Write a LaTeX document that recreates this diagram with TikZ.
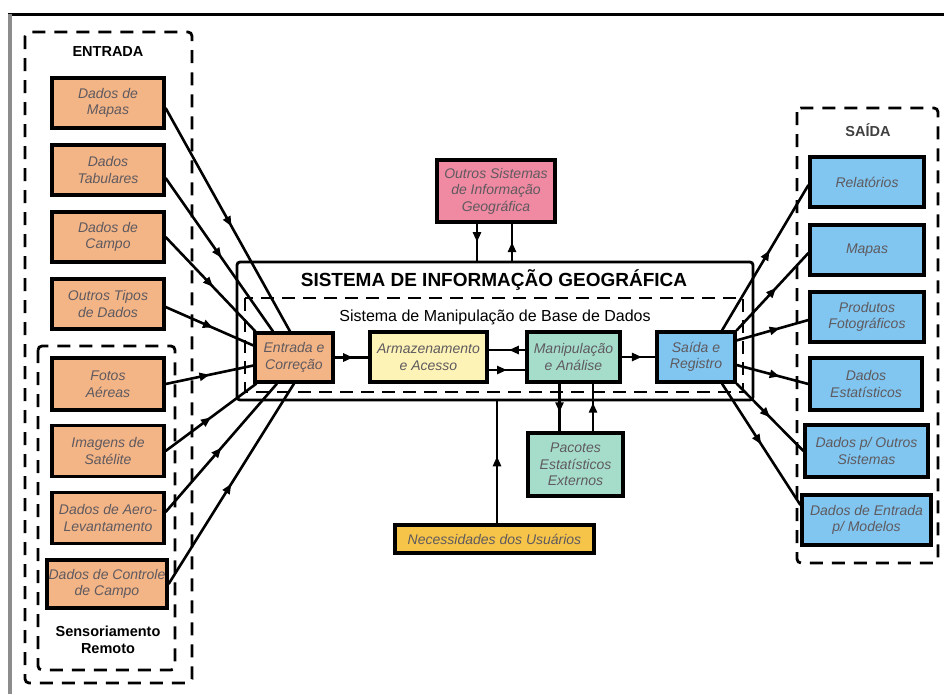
\documentclass[tikz,border=0pt]{standalone}
\usepackage{fontspec}
\setmainfont{Liberation Sans}
\usetikzlibrary{arrows.meta,decorations.markings}
\definecolor{corange}{RGB}{243,180,134}
\definecolor{cyellow}{RGB}{253,243,182}
\definecolor{cgreen}{RGB}{166,221,202}
\definecolor{cblue}{RGB}{128,198,240}
\definecolor{cpink}{RGB}{240,138,162}
\definecolor{cgold}{RGB}{246,196,72}
\definecolor{ctext}{RGB}{95,90,95}
\begin{document}
\begin{tikzpicture}[x=1pt,y=-1pt,
  box/.style={draw=black, line width=3.2pt, inner sep=0pt, align=center,
    font=\fontsize{14}{16.5}\selectfont\itshape, text=ctext},
  inbox/.style={box, fill=corange, minimum width=112pt, minimum height=50pt},
  outbox/.style={box, fill=cblue, minimum width=114pt, minimum height=50pt},
  grp/.style={draw=black, line width=2.8pt, dash pattern=on 13pt off 9pt, rounded corners=4pt},
  conn/.style={draw=black, line width=2.6pt},
  midarrow/.style={postaction={decorate,decoration={markings,
    mark=at position #1 with {\arrow{Triangle[length=10pt,width=8pt]}}}}},
  midarrow/.default=0.5,
  lbl/.style={font=\fontsize{14.5}{17}\selectfont\bfseries, align=center}
]
\useasboundingbox (0,0) rectangle (944,694);
\fill[white] (0,0) rectangle (944,694);
% frame of the scanned figure
\draw[line width=3pt, black] (8,14) -- (944,14);
\draw[line width=4pt, black!45] (10,14) -- (10,694);

% groups
\draw[grp] (25,32) rectangle (192,683);
\draw[grp] (38,346) rectangle (175,670);
\draw[grp] (797,108) rectangle (938,563);
\node[lbl] (lentrada) at (108,52) {ENTRADA};
\node[lbl] (lsens) at (108,640) {Sensoriamento\\Remoto};
\node[lbl, text=black!75] (lsaida) at (868,130) {SAÍDA};

% SIG
\node[draw=black, line width=2.8pt, rounded corners=3pt, minimum width=516pt, minimum height=138pt, inner sep=0pt] (sig) at (495,331) {};
\draw[grp, rounded corners=0pt, dash pattern=on 13pt off 8pt] (245,298) rectangle (743,392);
\node[font=\fontsize{19}{22}\selectfont\bfseries] (title) at (494,280) {SISTEMA DE INFORMAÇÃO GEOGRÁFICA};
\node[font=\fontsize{16}{18}\selectfont] (sub) at (495,317) {Sistema de Manipulação de Base de Dados};

% input boxes
\node[inbox] (mapas) at (108,103) {Dados de\\Mapas};
\node[inbox] (tab) at (108,170) {Dados\\Tabulares};
\node[inbox] (campo) at (108,237) {Dados de\\Campo};
\node[inbox] (outros) at (108,304) {Outros Tipos\\de Dados};
\node[inbox, minimum height=52pt] (fotos) at (108,384) {Fotos\\Aéreas};
\node[inbox, minimum height=51pt] (sat) at (108,451) {Imagens de\\Satélite};
\node[inbox, minimum height=51pt] (aero) at (108,518) {Dados de Aero-\\Levantamento};
\node[inbox, minimum width=120pt, minimum height=48pt] (ctrl) at (107,584) {Dados de Controle\\de Campo};

% inner boxes
\node[box, fill=corange, minimum width=78pt, minimum height=49pt] (ent) at (294,357.5) {Entrada e\\Correção};
\node[box, fill=cyellow, minimum width=117pt, minimum height=50pt] (arm) at (428.5,357) {Armazenamento\\e Acesso};
\node[box, fill=cgreen, minimum width=93pt, minimum height=50pt] (man) at (573.5,357) {Manipulação\\e Análise};
\node[box, fill=cblue, minimum width=78pt, minimum height=50pt] (sai) at (696,357) {Saída e\\Registro};
\node[box, fill=cpink, minimum width=118pt, minimum height=62pt] (osig) at (496,191) {Outros Sistemas\\de Informação\\Geográfica};
\node[box, fill=cgreen, minimum width=95pt, minimum height=63pt] (pac) at (575.5,464.5) {Pacotes\\Estatísticos\\Externos};
\node[box, fill=cgold, minimum width=199pt, minimum height=28pt] (nec) at (494.5,539) {Necessidades dos Usuários};

% output boxes
\node[outbox] (rel) at (867,182) {Relatórios};
\node[outbox] (mapo) at (867,250) {Mapas};
\node[outbox] (prod) at (867,317) {Produtos\\Fotográficos};
\node[outbox, minimum width=112pt, minimum height=52pt] (est) at (866,384) {Dados\\Estatísticos};
\node[outbox, minimum width=123pt, minimum height=52pt] (dout) at (866.5,451) {Dados p/ Outros\\Sistemas};
\node[outbox, minimum width=129pt, minimum height=50pt] (dmod) at (866.5,520) {Dados de Entrada\\p/ Modelos};

% input connectors
\draw[conn, midarrow=0.53] ([yshift=-5pt]mapas.east) -- ([xshift=-4pt]ent.north);
\draw[conn, midarrow=0.52] ([yshift=-8pt]tab.east) -- ([xshift=-21pt]ent.north);
\draw[conn, midarrow=0.53] (campo.east) -- ([xshift=2pt]ent.north west);
\draw[conn, midarrow=0.54] ([yshift=-3pt]outros.east) -- ([yshift=12pt]ent.west);
\draw[conn, midarrow=0.5] (fotos.east) -- ([yshift=-8pt]ent.west);
\draw[conn, midarrow=0.5] (sat.east) -- ([xshift=3pt]ent.south west);
\draw[conn, midarrow=0.5] ([yshift=6pt]aero.east) -- ([xshift=-17pt]ent.south);
\draw[conn, midarrow=0.5] (ctrl.east) -- (ent.south);

% inner connectors
\draw[conn, midarrow=0.55] (ent.east) -- (ent.east -| arm.west);
\draw[conn, midarrow=0.45] ([yshift=7pt]man.west) -- ([yshift=7pt]man.west -| arm.east);
\draw[conn, midarrow=0.5] ([yshift=-13pt]arm.east) -- ([yshift=-13pt]arm.east -| man.west);
\draw[conn, midarrow=0.6] (man.east) -- (man.east -| sai.west);

% other systems
\draw[conn, midarrow=0.5] ([xshift=-19pt]osig.south) -- ([xshift=-19pt]osig.south |- sig.north);
\draw[conn, midarrow=0.5] ([xshift=16pt]osig.south |- sig.north) -- ([xshift=16pt]osig.south);
% statistics packages
\draw[conn, midarrow=0.6] ([xshift=-14pt]man.south) -- ([xshift=-14pt]man.south |- pac.north);
\draw[conn, midarrow=0.6] ([xshift=19.5pt]man.south |- pac.north) -- ([xshift=19.5pt]man.south);
% users
\draw[conn, midarrow=0.55] ([xshift=2.5pt]nec.north) -- ([xshift=2.5pt]nec.north |- sig.south);

% output connectors
\draw[conn, midarrow=0.55] ([xshift=26pt]sai.north) -- ([yshift=-3pt]rel.west);
\draw[conn, midarrow=0.55] (sai.north east) -- ([yshift=-3pt]mapo.west);
\draw[conn, midarrow=0.6] ([yshift=-10pt]sai.north east) -- ([yshift=-3pt]prod.west);
\draw[conn, midarrow=0.6] ([yshift=-8pt]sai.east) -- (est.west);
\draw[conn, midarrow=0.5] (sai.south east) -- (dout.west);
\draw[conn, midarrow=0.5] ([xshift=26pt]sai.south) -- ([yshift=15pt]dmod.west);
\end{tikzpicture}
\end{document}
